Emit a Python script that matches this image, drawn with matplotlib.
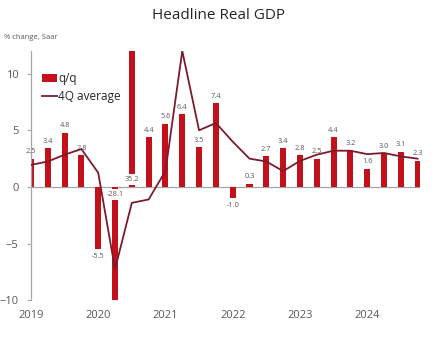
import matplotlib
matplotlib.use("Agg")
import matplotlib.pyplot as plt
from matplotlib.lines import Line2D
from matplotlib.patches import Patch
import numpy as np

plt.rcParams['font.family'] = ['Open Sans', 'DejaVu Sans']

# Quarterly real GDP, 2019Q1 - 2024Q4
years = ["2019", "2020", "2021", "2022", "2023", "2024"]
qoq = [2.5, 3.4, 4.8, 2.8,
       -5.5, -28.1, 35.2, 4.4,
       5.6, 6.4, 3.5, 7.4,
       -1.0, 0.3, 2.7, 3.4,
       2.8, 2.5, 4.4, 3.2,
       1.6, 3.0, 3.1, 2.3]
avg4q = [1.95, 2.25, 2.85, 3.35,
         1.25, -7.25, -1.4, -1.1,
         1.4, 12.0, 5.0, 5.65,
         4.0, 2.5, 2.25, 1.4,
         2.3, 2.85, 3.2, 3.2,
         2.9, 3.0, 2.7, 2.5]

BAR = "#C3111C"
LINE = "#7B1C2C"
GREY = "#595959"
YMIN, YMAX = -10, 12

fig = plt.figure(figsize=(4.37, 3.49), dpi=100)
ax = fig.add_axes([0.0709, 0.1395, 0.8901, 0.7144])

x = np.arange(len(qoq))
ax.bar(x, qoq, width=0.36, color=BAR, zorder=2)
ax.plot(x, avg4q, color=LINE, lw=1.3, zorder=4)
ax.axhline(0, color="#A6A6A6", lw=0.9, zorder=1)

# value labels above/below each bar; out-of-range bars get a label near zero
for xi, v in zip(x, qoq):
    txt = f"{v:.1f}"
    if v > YMAX:
        ax.annotate(txt, (xi, 0), xytext=(0, 3), textcoords="offset points",
                    ha="center", va="bottom", fontsize=5.3, color=GREY,
                    bbox=dict(boxstyle="square,pad=0.25", fc="white", ec="none"),
                    zorder=3, annotation_clip=False)
    elif v < YMIN:
        ax.annotate(txt, (xi, 0), xytext=(0, -3), textcoords="offset points",
                    ha="center", va="top", fontsize=5.3, color=GREY,
                    bbox=dict(boxstyle="square,pad=0.25", fc="white", ec="none"),
                    zorder=3, annotation_clip=False)
    elif v >= 0:
        ax.annotate(txt, (xi, v), xytext=(0, 2.5), textcoords="offset points",
                    ha="center", va="bottom", fontsize=5.3, color=GREY,
                    zorder=3, annotation_clip=False)
    else:
        ax.annotate(txt, (xi, v), xytext=(0, -3), textcoords="offset points",
                    ha="center", va="top", fontsize=5.3, color=GREY,
                    zorder=3, annotation_clip=False)

ax.set_xlim(0, 23.14)
ax.set_ylim(YMIN, YMAX)
ax.set_yticks([-10, -5, 0, 5, 10])
ax.set_xticks(np.arange(0, len(qoq), 4))
ax.set_xticklabels(years)

for s in ["top", "right", "bottom"]:
    ax.spines[s].set_visible(False)
ax.spines["left"].set_color("#A6A6A6")
ax.spines["left"].set_linewidth(0.9)
ax.tick_params(axis="y", length=3, width=0.8, color="#A6A6A6",
               labelsize=8, labelcolor=GREY, pad=6)
ax.tick_params(axis="x", length=0, labelsize=8, labelcolor=GREY, pad=7)

handles = [Patch(facecolor=BAR, edgecolor="none"),
           Line2D([0], [0], color=LINE, lw=1.3)]
ax.legend(handles, ["q/q", "4Q average"], loc="upper left",
          bbox_to_anchor=(0.015, 0.935), frameon=False, fontsize=8.5,
          labelcolor="#262626", handlelength=1.35, handletextpad=0.05,
          handleheight=0.6, labelspacing=0.45, borderaxespad=0)

fig.text(0.5, 0.955, "Headline Real GDP", ha="center", va="center",
         fontsize=11, color="#262626")
fig.text(0.01, 0.893, "% change, Saar", ha="left", va="center",
         fontsize=5.5, color=GREY)

fig.savefig("out.png", dpi=100, facecolor="white")
